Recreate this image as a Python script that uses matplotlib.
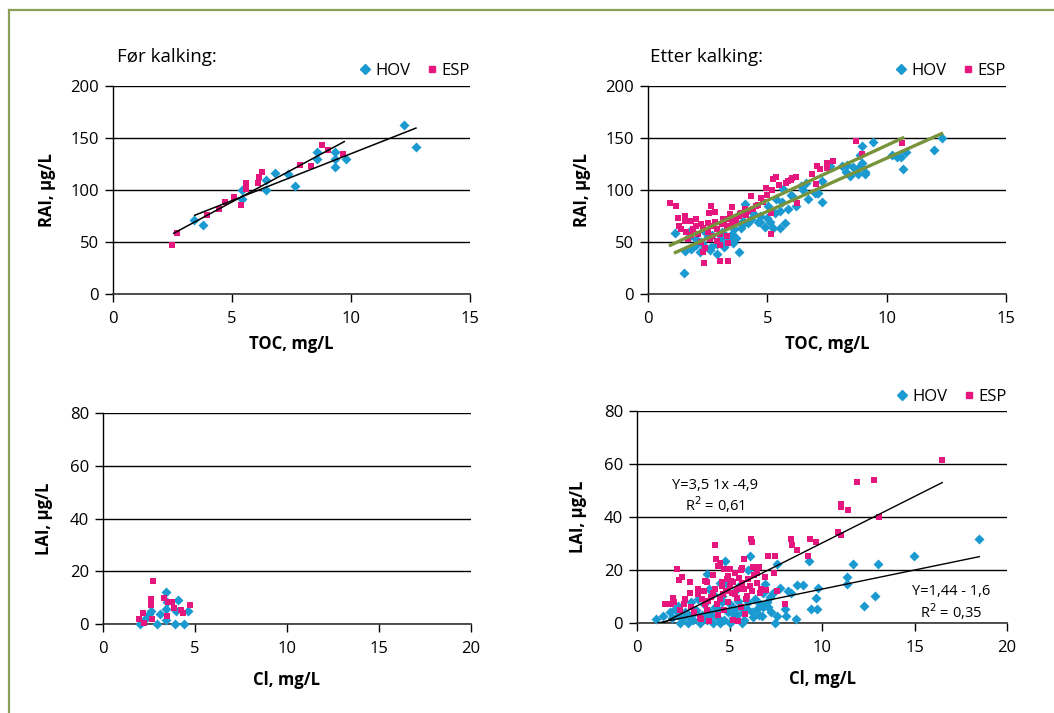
import matplotlib
matplotlib.use("Agg")
import matplotlib.pyplot as plt
from matplotlib.lines import Line2D

plt.rcParams["font.family"] = ["Open Sans", "DejaVu Sans"]

BLUE = "#1B9AD2"
PINK = "#E5177E"
OLIVE = "#77933C"
FRAME = "#8CA05A"

# --- Før kalking, RAI vs TOC ---
for_toc_hov = [3.39, 3.79, 5.40, 5.40, 6.42, 6.42, 6.81, 7.37, 7.64, 8.58, 8.58, 9.34, 9.34, 9.34, 9.77, 12.22, 12.74]
for_rai_hov = [70.8, 66.3, 90.9, 99.5, 110.0, 99.5, 116.4, 115.2, 104.0, 136.8, 129.5, 136.8, 129.5, 122.5, 129.8, 162.7, 141.3]
for_toc_esp = [2.48, 2.68, 3.93, 4.44, 4.70, 5.07, 5.38, 5.58, 5.58, 6.08, 6.14, 6.28, 7.85, 8.34, 8.80, 9.04, 9.67]
for_rai_esp = [46.9, 58.4, 75.9, 81.3, 88.7, 93.1, 85.8, 100.5, 106.9, 106.9, 112.0, 117.4, 124.4, 123.1, 143.2, 138.8, 134.6]
# trend lines: slope, intercept, x start, x end
for_trend = [(12.3, 27.0, 2.55, 9.72), (9.02, 44.7, 3.43, 12.73)]

# --- Etter kalking, RAI vs TOC ---
etter_toc_hov = [1.12, 1.50, 1.54, 1.82, 1.82, 2.03, 2.17, 2.38, 2.66, 2.87, 3.00, 3.29, 3.56, 3.70, 3.82,
                 3.98, 4.05, 4.40, 4.61, 4.71, 4.89, 5.03, 5.10, 5.24, 5.38, 5.52, 5.52, 5.73, 5.66, 5.87,
                 6.08, 6.22, 6.43, 6.60, 6.71, 7.06, 7.13, 7.27, 7.27, 7.62, 8.11, 8.32, 8.29, 8.46, 8.60,
                 8.78, 8.78, 8.88, 8.95, 8.98, 9.09, 9.11, 9.41, 10.21, 10.42, 10.62, 10.67, 10.81, 11.98, 12.30,
                 1.7, 2.0, 2.2, 2.5, 2.7, 3.1, 3.3, 3.5, 3.9, 4.2, 4.3, 4.7, 5.0, 5.3, 5.6, 6.0, 6.5, 7.0,
                 2.4, 2.9, 3.6, 1.9, 2.6, 3.2, 3.4, 4.0]
etter_rai_hov = [58.4, 19.8, 41.5, 61.6, 43.1, 52.7, 39.9, 45.6, 44.7, 38.3, 52.7, 49.5, 48.8, 53.6, 39.9,
                 67.0, 86.2, 78.2, 69.3, 69.3, 64.5, 84.6, 69.3, 63.8, 91.0, 63.8, 79.8, 68.6, 101.2, 81.4,
                 93.5, 84.6, 103.7, 106.3, 91.0, 96.7, 97.4, 108.5, 88.4, 122.9, 123.5, 124.5, 117.1, 113.3, 121.9,
                 121.3, 115.5, 134.1, 126.1, 142.0, 117.1, 114.9, 145.9, 134.1, 131.8, 131.8, 120.3, 136.3, 138.8, 150.0,
                 55, 47, 50, 55, 57, 60, 55, 58, 63, 68, 72, 75, 73, 78, 88, 95, 100, 97,
                 60, 48, 62, 45, 42, 45, 52, 70]
etter_toc_esp = [0.91, 1.16, 1.26, 1.30, 1.54, 1.54, 1.82, 2.03, 1.68, 2.24, 2.31, 2.34, 2.52, 2.56, 2.66,
                 2.70, 2.80, 2.89, 3.03, 3.15, 3.36, 3.36, 3.43, 3.50, 3.43, 3.84, 4.05, 4.33, 4.54, 4.75,
                 4.96, 5.17, 5.17, 5.24, 5.35, 5.87, 6.05, 6.22, 6.25, 6.85, 7.03, 7.06, 7.20, 7.48, 7.51,
                 7.76, 8.70, 8.95, 10.65,
                 1.6, 1.9, 2.1, 2.3, 2.5, 2.7, 2.9, 3.0, 3.1, 3.2, 3.3, 3.4, 3.5, 3.6, 3.7, 3.8, 3.9, 4.1,
                 4.2, 4.4, 4.6, 4.8, 5.0, 5.2, 5.5, 5.8, 6.0, 2.2, 2.6, 2.4, 3.0, 3.3, 1.8, 2.0, 1.4, 2.8]
etter_rai_esp = [87.8, 84.6, 73.4, 65.4, 75.0, 70.2, 70.2, 71.8, 52.7, 67.0, 40.5, 29.4, 68.6, 78.2, 84.6,
                 55.9, 78.8, 51.1, 31.9, 71.8, 31.9, 48.8, 76.6, 83.9, 65.4, 76.6, 81.4, 94.2, 84.6, 92.6,
                 102.1, 77.6, 58.1, 110.1, 112.7, 108.5, 111.7, 112.7, 87.8, 114.9, 105.3, 123.5, 119.7, 121.3, 126.1,
                 127.7, 146.8, 135.0, 145.2,
                 60, 62, 58, 63, 60, 65, 62, 58, 67, 70, 64, 72, 68, 73, 70, 75, 78, 76,
                 80, 82, 86, 88, 95, 100, 105, 107, 110, 50, 53, 44, 47, 56, 57, 65, 62, 69]
etter_trend = [(10.6, 36.9, 0.94, 10.67), (10.25, 28.1, 1.15, 12.30)]

# --- Før kalking, LAI vs Cl ---
for_cl_hov = [1.99, 2.30, 2.48, 2.61, 2.93, 3.08, 3.41, 3.41, 3.41, 3.48, 3.89, 3.99, 4.06, 4.38, 4.60]
for_lai_hov = [0.0, 1.9, 3.8, 5.1, 0.0, 3.8, 1.7, 5.7, 12.1, 8.3, 0.0, 5.1, 9.2, 0.0, 5.1]
for_cl_esp = [1.97, 2.15, 2.24, 2.62, 2.62, 2.69, 2.72, 3.30, 3.48, 3.53, 3.75, 3.88, 4.26, 4.35, 4.75]
for_lai_esp = [1.9, 4.2, 0.3, 9.3, 7.1, 1.9, 16.2, 9.9, 3.1, 8.3, 8.3, 6.0, 5.4, 4.2, 7.1]

# --- Etter kalking, LAI vs Cl ---
etter_cl_hov = [1.01, 1.41, 1.77, 2.04, 2.22, 2.31, 2.58, 2.76, 2.94, 3.12, 3.39, 3.66, 3.79, 3.94, 4.12,
                4.39, 4.48, 4.57, 4.75, 4.84, 5.02, 5.11, 5.29, 5.47, 5.65, 5.74, 5.92, 6.01, 6.10, 6.28,
                6.46, 6.64, 6.73, 6.82, 6.91, 7.09, 7.22, 7.36, 7.45, 7.55, 7.58, 7.73, 8.00, 8.03, 8.18,
                8.30, 8.59, 8.66, 8.99, 9.30, 9.39, 9.66, 9.75, 9.80, 11.34, 11.34, 11.66, 12.29, 12.87, 13.01,
                14.96, 18.47,
                2.5, 2.8, 3.0, 3.2, 3.5, 3.6, 3.8, 4.0, 4.2, 4.4, 4.6, 4.7, 4.9, 5.0, 5.2, 5.4, 5.6, 5.8,
                6.0, 6.2, 6.4, 6.6, 6.8, 7.0, 7.2, 3.3, 4.1, 5.3, 2.2, 1.9, 4.5, 5.5, 3.9]
etter_lai_hov = [1.5, 2.5, 4.0, 5.3, 6.5, 0.0, 4.0, 0.0, 8.0, 4.0, 0.0, 2.1, 18.4, 4.0, 0.0,
                 5.3, 0.0, 10.3, 23.4, 14.7, 0.0, 4.0, 5.3, 8.4, 0.0, 4.0, 5.3, 20.1, 25.3, 2.1,
                 5.3, 7.1, 2.8, 11.5, 14.7, 5.9, 4.0, 11.5, 0.0, 2.8, 22.2, 13.4, 5.3, 2.5, 12.2,
                 11.5, 1.5, 14.3, 14.3, 23.4, 5.3, 9.3, 5.3, 13.2, 14.9, 17.2, 22.4, 6.5, 10.3, 22.4,
                 25.2, 31.8,
                 2, 3, 1, 5, 3, 7, 1, 3, 6, 2, 8, 1, 4, 7, 2, 3, 6, 1,
                 8, 4, 9, 3, 6, 8, 10, 9, 11, 12, 3, 2, 15, 14, 13]
etter_cl_esp = [1.50, 1.86, 1.95, 2.17, 2.27, 2.45, 2.53, 2.85, 2.89, 3.30, 3.48, 3.66, 3.79, 3.84, 3.90,
                4.12, 4.19, 4.26, 4.35, 4.48, 4.57, 4.66, 4.71, 4.84, 4.93, 5.02, 5.11, 5.20, 5.29, 5.38,
                5.47, 5.56, 5.70, 5.79, 5.83, 5.92, 6.01, 6.14, 6.19, 6.28, 6.46, 6.61, 6.64, 6.91, 6.95,
                7.09, 7.39, 7.45, 7.55, 8.00, 8.30, 8.39, 8.63, 9.22, 9.35, 9.68, 10.88, 11.00, 11.00, 11.00,
                11.39, 11.88, 12.82, 13.07, 16.48,
                2.0, 2.3, 2.6, 2.9, 3.1, 3.3, 3.5, 3.6, 3.8, 4.0, 4.2, 4.3, 4.5, 4.6, 4.8, 4.9, 5.0, 5.1,
                5.3, 5.4, 5.5, 5.6, 5.7, 5.8, 5.9, 6.1, 6.2, 6.3, 6.5, 6.7, 3.4, 4.4, 5.2, 4.7, 3.7, 4.1, 5.6]
etter_lai_esp = [7.1, 7.1, 9.6, 20.3, 16.3, 17.5, 7.1, 11.5, 15.3, 10.9, 1.5, 7.1, 15.3, 8.4, 0.9,
                 11.5, 29.3, 24.1, 21.6, 22.8, 15.3, 10.9, 20.3, 16.5, 17.8, 20.3, 11.5, 15.3, 19.0, 9.6,
                 0.9, 12.8, 20.6, 24.1, 3.4, 10.3, 16.5, 31.6, 30.4, 21.3, 19.0, 21.3, 11.5, 17.4, 12.5,
                 25.3, 19.0, 25.3, 12.2, 7.1, 31.6, 29.5, 27.6, 25.3, 31.6, 30.4, 34.3, 33.2, 45.1, 43.9,
                 42.5, 53.1, 54.1, 40.1, 61.7,
                 8, 5, 9, 6, 4, 13, 9, 12, 5, 10, 13, 7, 9, 14, 12, 8, 14, 16,
                 11, 13, 17, 6, 15, 13, 9, 14, 12, 18, 15, 13, 2, 3, 1, 5, 16, 18, 20]
etter_lai_trend = [(3.51, -4.9, 1.4, 16.5), (1.44, -1.6, 1.1, 18.5)]


def style_axes(ax, xmax, xstep, ymax, ystep):
    ax.set_xlim(0, xmax)
    ax.set_ylim(0, ymax)
    ax.set_xticks(range(0, xmax + 1, xstep))
    ax.set_yticks(range(0, ymax + 1, ystep))
    ax.yaxis.grid(True, color="black", linewidth=1.0)
    ax.set_axisbelow(True)
    for side in ("top", "right"):
        ax.spines[side].set_visible(False)
    ax.spines["left"].set_color("black")
    ax.spines["bottom"].set_color("#333333")
    ax.spines["left"].set_linewidth(1.0)
    ax.spines["bottom"].set_linewidth(1.2)
    ax.tick_params(direction="out", length=6, width=1, labelsize=12, pad=4)
    ax.tick_params(axis="x", pad=6)
    ax.patch.set_alpha(0)


def scatter(ax, xh, yh, xe, ye):
    ax.scatter(xh, yh, marker="D", s=26, color=BLUE, linewidths=0, zorder=3, clip_on=False)
    ax.scatter(xe, ye, marker="s", s=24, color=PINK, linewidths=0, zorder=3, clip_on=False)


def add_legend(ax, y_off):
    handles = [Line2D([], [], marker="D", color=BLUE, linestyle="none", markersize=5),
               Line2D([], [], marker="s", color=PINK, linestyle="none", markersize=5)]
    ax.legend(handles, ["HOV", "ESP"], loc="lower right", bbox_to_anchor=(1.0, y_off), ncol=2,
              frameon=False, fontsize=12, handletextpad=0.1, columnspacing=0.8,
              borderaxespad=0, borderpad=0, handlelength=1.0)


def trend(ax, lines, color, lw):
    for slope, icpt, x0, x1 in lines:
        ax.plot([x0, x1], [slope * x0 + icpt, slope * x1 + icpt], color=color, linewidth=lw, zorder=4)


fig = plt.figure(figsize=(10.54, 7.13), dpi=100)

ax1 = fig.add_axes([0.1072, 0.5877, 0.3387, 0.2917])
style_axes(ax1, 15, 5, 200, 50)
scatter(ax1, for_toc_hov, for_rai_hov, for_toc_esp, for_rai_esp)
trend(ax1, for_trend, "black", 1.1)
ax1.set_xlabel("TOC, mg/L", fontsize=12, fontweight="bold", labelpad=6)
ax1.set_ylabel("RAI, µg/L", fontsize=12, fontweight="bold", labelpad=10)
add_legend(ax1, 1.035)
fig.text(117 / 1054, 1 - 57 / 713, "Før kalking:", fontsize=13.5, va="center", ha="left")

ax2 = fig.add_axes([0.6148, 0.5877, 0.3397, 0.2917])
style_axes(ax2, 15, 5, 200, 50)
scatter(ax2, etter_toc_hov, etter_rai_hov, etter_toc_esp, etter_rai_esp)
trend(ax2, etter_trend, OLIVE, 2.4)
ax2.set_xlabel("TOC, mg/L", fontsize=12, fontweight="bold", labelpad=6)
ax2.set_ylabel("RAI, µg/L", fontsize=12, fontweight="bold", labelpad=10)
add_legend(ax2, 1.035)
fig.text(650 / 1054, 1 - 57 / 713, "Etter kalking:", fontsize=13.5, va="center", ha="left")

ax3 = fig.add_axes([0.0977, 0.1248, 0.3491, 0.2959])
style_axes(ax3, 20, 5, 80, 20)
scatter(ax3, for_cl_hov, for_lai_hov, for_cl_esp, for_lai_esp)
ax3.set_xlabel("Cl, mg/L", fontsize=12, fontweight="bold", labelpad=10)
ax3.set_ylabel("LAI, µg/L", fontsize=12, fontweight="bold", labelpad=12)

ax4 = fig.add_axes([0.6044, 0.1262, 0.351, 0.2973])
style_axes(ax4, 20, 5, 80, 20)
scatter(ax4, etter_cl_hov, etter_lai_hov, etter_cl_esp, etter_lai_esp)
trend(ax4, etter_lai_trend, "black", 1.0)
ax4.set_xlabel("Cl, mg/L", fontsize=12, fontweight="bold", labelpad=10)
ax4.set_ylabel("LAI, µg/L", fontsize=12, fontweight="bold", labelpad=12)
add_legend(ax4, 1.03)
ax4.text(4.2, 52.0, "Y=3,5 1x -4,9", fontsize=10.5, ha="center", va="center")
ax4.text(4.2, 44.5, "R$^2$ = 0,61", fontsize=10.5, ha="center", va="center")
ax4.text(17.0, 11.8, "Y=1,44 - 1,6", fontsize=10.5, ha="center", va="center")
ax4.text(17.0, 4.2, "R$^2$ = 0,35", fontsize=10.5, ha="center", va="center")

# green frame (top and left edge)
fx = 9 / 1054
fy = 1 - 10 / 713
fig.add_artist(Line2D([fx, 1.0], [fy, fy], transform=fig.transFigure, color=FRAME, linewidth=1.6))
fig.add_artist(Line2D([fx, fx], [0.0, fy], transform=fig.transFigure, color=FRAME, linewidth=1.6))

fig.savefig("out.png", dpi=100)
